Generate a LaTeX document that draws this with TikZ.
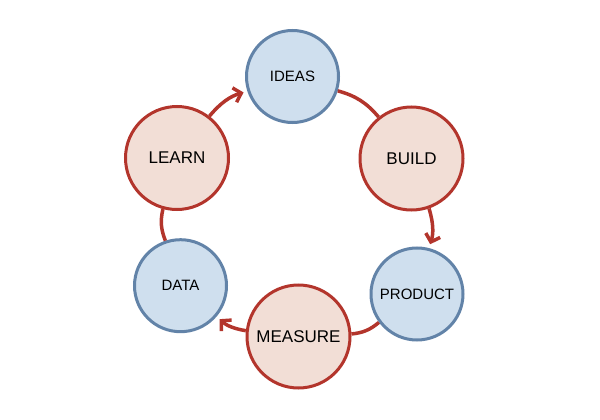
\documentclass[tikz,border=0pt]{standalone}
\usepackage{fontspec}
\setmainfont{Liberation Sans}
\usetikzlibrary{arrows.meta}
\definecolor{redline}{HTML}{B3352C}
\definecolor{redfill}{HTML}{F2DED6}
\definecolor{blueline}{HTML}{6283A8}
\definecolor{bluefill}{HTML}{CFDFEE}
\begin{document}
\begin{tikzpicture}[x=1pt,y=1pt,
  bluecirc/.style={circle,draw=blueline,fill=bluefill,line width=3pt,minimum size=92pt,inner sep=0pt,font=\fontsize{15}{18}\selectfont},
  redcirc/.style={circle,draw=redline,fill=redfill,line width=3pt,minimum size=103pt,inner sep=0pt,font=\fontsize{17}{20}\selectfont},
  link/.style={draw=redline,line width=3.5pt,bend left=17},
  arrowlink/.style={link,-{Straight Barb[length=7pt,width=15pt]},shorten >=4pt}]
\useasboundingbox (0,0) rectangle (600,-420);
\node[bluecirc] (ideas) at (292.5,-76.5) {IDEAS};
\node[redcirc] (build) at (411.5,-158.5) {BUILD};
\node[bluecirc] (product) at (417,-294) {PRODUCT};
\node[redcirc] (measure) at (298.5,-336.5) {MEASURE};
\node[bluecirc] (data) at (180.5,-285.7) {DATA};
\node[redcirc] (learn) at (177,-158) {LEARN};
\draw[link] (ideas) to (build);
\draw[arrowlink] (build) to (product);
\draw[link] (product) to (measure);
\draw[arrowlink] (measure) to (data);
\draw[link] (data) to (learn);
\draw[arrowlink] (learn) to (ideas);
\end{tikzpicture}
\end{document}
